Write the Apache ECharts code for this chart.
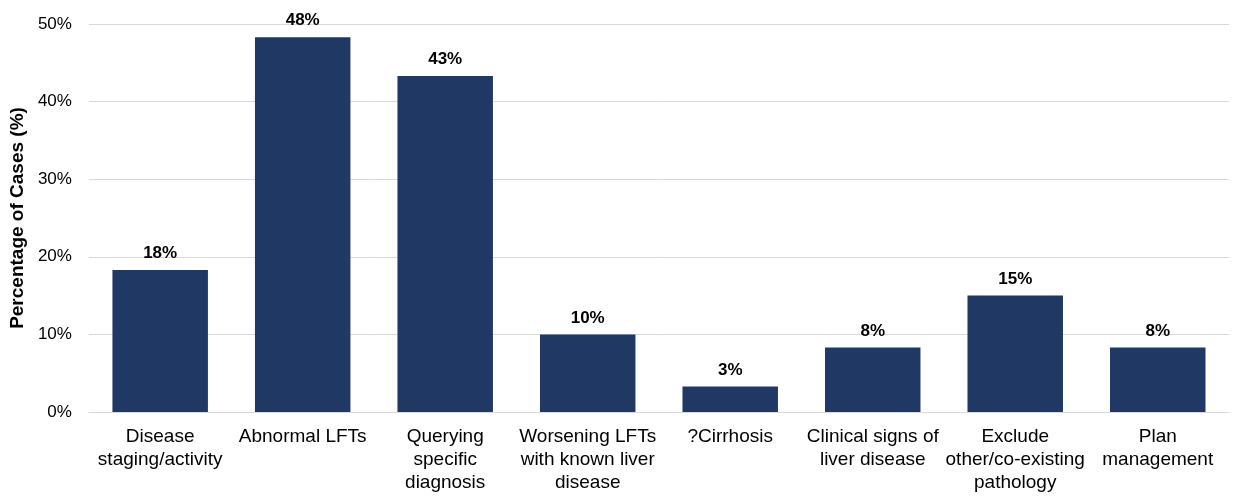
<!DOCTYPE html>
<html>
<head>
<meta charset="utf-8">
<script src="https://cdn.jsdelivr.net/npm/echarts@6/dist/echarts.min.js"></script>
<style>
  html, body { margin: 0; padding: 0; background: #fff; }
  #chart { width: 1236px; height: 496px; }
</style>
</head>
<body>
<div id="chart"></div>
<script>
// categories (x axis)
const categories = [
  'Disease\nstaging/activity',
  'Abnormal LFTs',
  'Querying\nspecific\ndiagnosis',
  'Worsening LFTs\nwith known liver\ndisease',
  '?Cirrhosis',
  'Clinical signs of\nliver disease',
  'Exclude\nother/co-existing\npathology',
  'Plan\nmanagement'
];
// percentage of cases
const percentages = [18.3, 48.3, 43.3, 10.0, 3.3, 8.3, 15.0, 8.3];

const chart = echarts.init(document.getElementById('chart'));

const option = {
  animation: false,
  textStyle: { fontFamily: 'Liberation Sans, Arial, sans-serif' },
  grid: { left: 86, right: 7, top: 24, bottom: 84 },
  xAxis: {
    type: 'category',
    data: categories,
    axisTick: { show: false },
    axisLine: { lineStyle: { color: '#d9d9d9', width: 1 } },
    axisLabel: {
      color: '#000',
      fontSize: 19,
      lineHeight: 23,
      margin: 13,
      interval: 0
    }
  },
  yAxis: {
    type: 'value',
    min: 0,
    max: 50,
    interval: 10,
    name: 'Percentage of Cases (%)',
    nameLocation: 'middle',
    nameGap: 57,
    nameTextStyle: { color: '#000', fontSize: 19, fontWeight: 'bold' },
    axisLine: { show: false },
    axisTick: { show: false },
    axisLabel: { color: '#000', fontSize: 17, margin: 17, formatter: '{value}%' },
    splitLine: { lineStyle: { color: '#d9d9d9', width: 1 } }
  },
  series: [
    {
      type: 'bar',
      data: percentages,
      barWidth: '67%',
      itemStyle: { color: '#203864' },
      label: {
        show: true,
        position: 'top',
        distance: 8,
        color: '#000',
        fontSize: 17,
        fontWeight: 'bold',
        formatter: p => Math.round(p.value) + '%'
      }
    }
  ]
};

chart.setOption(option);
window.addEventListener('resize', () => chart.resize());
</script>
</body>
</html>
